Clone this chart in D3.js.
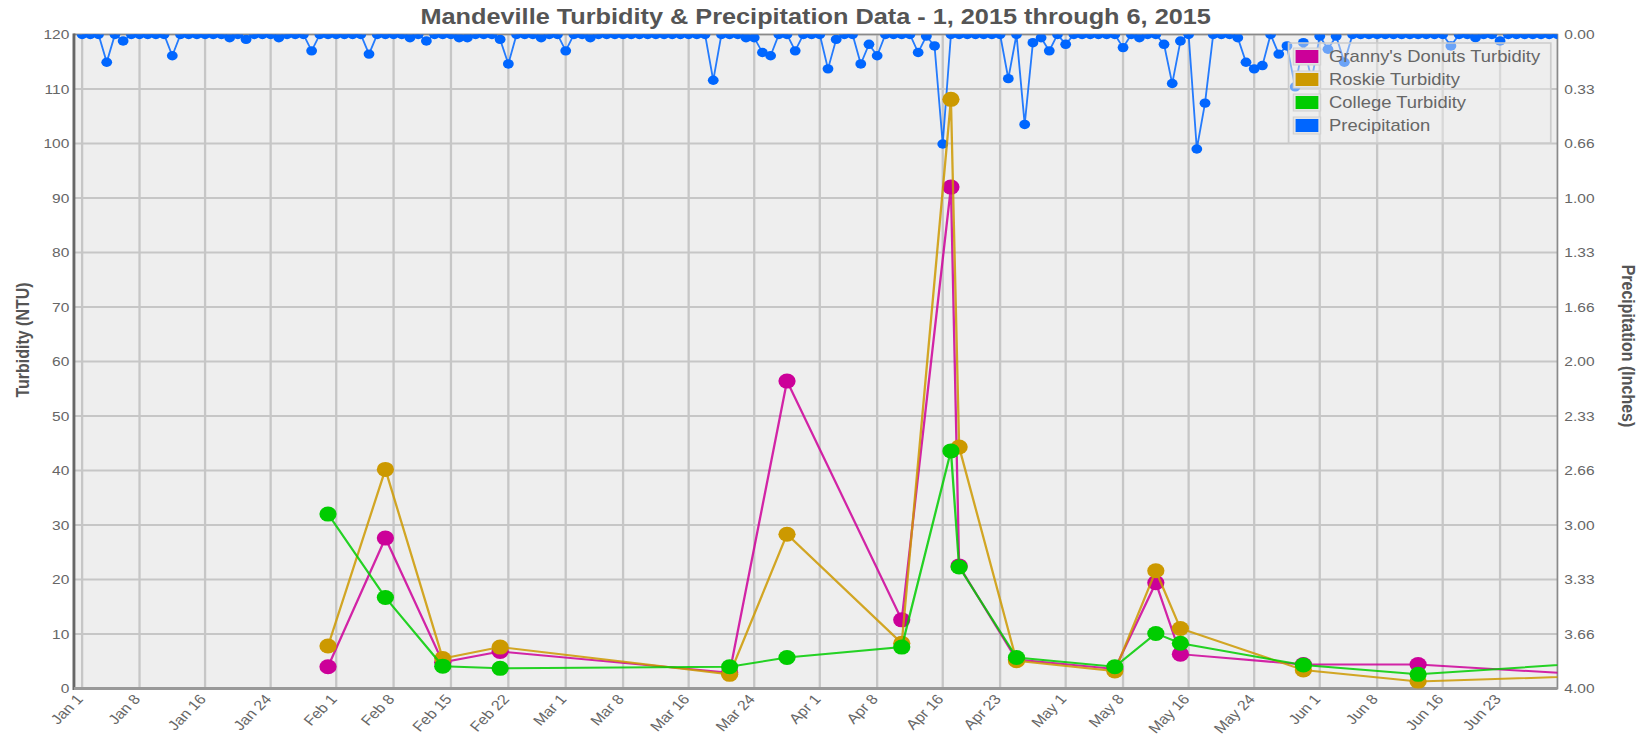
<!DOCTYPE html>
<html>
<head>
<meta charset="utf-8">
<script src="https://cdn.jsdelivr.net/npm/d3@7"></script>
<style>
  html, body { margin: 0; padding: 0; background: #fff; }
  svg { display: block; }
  text { font-family: Arial, "Liberation Sans", sans-serif; }
</style>
</head>
<body>
<svg id="chart"></svg>
<script>
// ---- data ----
var sampleDates = ["2015-01-31","2015-02-07","2015-02-14","2015-02-21","2015-03-21","2015-03-28",
  "2015-04-11","2015-04-17","2015-04-18","2015-04-25","2015-05-07","2015-05-12","2015-05-15",
  "2015-05-30","2015-06-13","2015-07-11"];
var grannyTurbidity  = [4.0, 27.6, 4.8, 6.8, 2.9, 56.4, 12.6, 92.0, 22.5, 5.3, 3.6, 19.4, 6.3, 4.4, 4.4, 1.9];
var roskieTurbidity  = [7.8, 40.2, 5.5, 7.6, 2.6, 28.3, 8.3, 108.1, 44.3, 5.1, 3.2, 21.6, 11.0, 3.4, 1.3, 2.6];
var collegeTurbidity = [32.0, 16.7, 4.1, 3.7, 4.0, 5.7, 7.6, 43.6, 22.3, 5.7, 4.0, 10.1, 8.3, 4.3, 2.6, 5.4];

// daily precipitation, inches, one value per day of the month
var precipJan = [0,0,0,0.17,0,0.04,0,0,0,0,0,0.13,0,0,0,0,0,0,0.02,0,0.03,0,0,0,0.02,0,0,0,0.10,0,0];
var precipFeb = [0,0,0,0,0.12,0,0,0,0,0.02,0,0.04,0,0,0,0.02,0.02,0,0,0,0.03,0.18,0,0,0,0.02,0,0];
var precipMar = [0.10,0,0,0.02,0,0,0,0,0,0,0,0,0,0,0,0,0,0,0.28,0,0,0,0.02,0.02,0.11,0.13,0,0,0.10,0,0];
var precipApr = [0,0.21,0.03,0,0,0.18,0.06,0.13,0,0,0,0,0.11,0.01,0.07,0.67,0,0,0,0,0,0,0,0.27,0,0.55,0.05,0.02,0.10,0];
var precipMay = [0.06,0,0,0,0,0,0,0.08,0,0.02,0,0,0.06,0.30,0.04,0,0.70,0.42,0,0,0,0.02,0.17,0.21,0.19,0,0.12,0.07,0.32,0.05,0.28];
var precipJun = [0.01,0.09,0.01,0.17,0,0,0,0,0,0,0,0,0,0,0,0,0.07,0,0,0.02,0,0,0.04,0,0,0,0,0,0,0];

var xTickDates = ["2015-01-01","2015-01-08","2015-01-16","2015-01-24","2015-02-01","2015-02-08","2015-02-15","2015-02-22",
  "2015-03-01","2015-03-08","2015-03-16","2015-03-24","2015-04-01","2015-04-08","2015-04-16","2015-04-23",
  "2015-05-01","2015-05-08","2015-05-16","2015-05-24","2015-06-01","2015-06-08","2015-06-16","2015-06-23"];
var precipTickLabels = ["0.00","0.33","0.66","1.00","1.33","1.66","2.00","2.33","2.66","3.00","3.33","3.66","4.00"];

var seriesNames  = ["Granny's Donuts Turbidity", "Roskie Turbidity", "College Turbidity", "Precipitation"];
var seriesColors = ["#cc0099", "#cc9900", "#00cc00", "#0066ff"];

// ---- layout ----
// the reference is a horizontally stretched picture, so draw in a narrower box and stretch it
var stretch = 1.15;
var W = 1642 / stretch, H = 737;
var pLeft = 64.3, pRight = 1354.3, pTop = 34.5, pBottom = 688.5;

var svg = d3.select("#chart")
  .attr("width", 1642).attr("height", 737)
  .attr("viewBox", "0 0 " + W + " " + H)
  .attr("preserveAspectRatio", "none");

var parse = d3.timeParse("%Y-%m-%d");
var x = d3.scaleTime().domain([new Date(2014, 11, 31), new Date(2015, 5, 30)]).range([pLeft, pRight]);
var yL = d3.scaleLinear().domain([0, 120]).range([pBottom, pTop]);
var yR = d3.scaleLinear().domain([0, 4]).range([pTop, pBottom]);

svg.append("defs").append("clipPath").attr("id", "plotclip")
  .append("rect").attr("x", pLeft).attr("y", pTop).attr("width", pRight - pLeft).attr("height", pBottom - pTop);

svg.append("rect").attr("x", pLeft).attr("y", pTop).attr("width", pRight - pLeft).attr("height", pBottom - pTop)
  .attr("fill", "#eeeeee");

// grid
var grid = svg.append("g");
grid.selectAll(".hg").data(yL.ticks(12)).enter().append("line")
  .attr("x1", pLeft).attr("x2", pRight)
  .attr("y1", function(d){return yL(d);}).attr("y2", function(d){return yL(d);})
  .attr("stroke", "#c6c6c6").attr("stroke-width", 2);
grid.selectAll(".vg").data(xTickDates.map(parse)).enter().append("line")
  .attr("x1", function(d){return x(d);}).attr("x2", function(d){return x(d);})
  .attr("y1", pTop).attr("y2", pBottom)
  .attr("stroke", "#c6c6c6").attr("stroke-width", 2);

// frame
svg.append("rect").attr("x", pLeft).attr("y", pTop).attr("width", pRight - pLeft).attr("height", pBottom - pTop)
  .attr("fill", "none").attr("stroke", "#8a8a8a").attr("stroke-width", 1.5);
svg.append("line").attr("x1", pLeft).attr("x2", pLeft).attr("y1", pTop - 1).attr("y2", pBottom + 1.5)
  .attr("stroke", "#666").attr("stroke-width", 2.5);
svg.append("line").attr("x1", pLeft).attr("x2", pRight).attr("y1", pBottom).attr("y2", pBottom)
  .attr("stroke", "#999").attr("stroke-width", 3);

// left axis labels
svg.append("g").selectAll("text").data(yL.ticks(12)).enter().append("text")
  .attr("x", pLeft - 4).attr("y", function(d){return yL(d);}).attr("dy", "0.36em")
  .attr("text-anchor", "end").attr("font-size", 13.5).attr("fill", "#666")
  .text(function(d){return d;});

// right axis labels
svg.append("g").selectAll("text").data(precipTickLabels).enter().append("text")
  .attr("x", pRight + 6).attr("y", function(d, i){return yR(i * 4 / 12);}).attr("dy", "0.36em")
  .attr("text-anchor", "start").attr("font-size", 13.5).attr("fill", "#666")
  .text(function(d){return d;});

// bottom axis labels
var fmt = d3.timeFormat("%b %-d");
svg.append("g").selectAll("text").data(xTickDates.map(parse)).enter().append("text")
  .attr("transform", function(d){return "translate(" + (x(d) + 1.5) + "," + (pBottom + 11) + ") rotate(-49)";})
  .attr("text-anchor", "end").attr("font-size", 14).attr("fill", "#666")
  .text(function(d){return fmt(d);});

// titles
svg.append("text").attr("x", (pLeft + pRight) / 2).attr("y", 24).attr("text-anchor", "middle")
  .attr("font-size", 22).attr("font-weight", "bold").attr("fill", "#555")
  .text("Mandeville Turbidity & Precipitation Data - 1, 2015 through 6, 2015");
svg.append("text").attr("transform", "translate(20,340) rotate(-90)").attr("text-anchor", "middle")
  .attr("dy", "0.35em").attr("font-size", 16).attr("font-weight", "bold").attr("fill", "#555")
  .text("Turbidity (NTU)");
svg.append("text").attr("transform", "translate(" + (1628 / stretch) + ",346) rotate(90)").attr("text-anchor", "middle")
  .attr("dy", "0.35em").attr("font-size", 16).attr("font-weight", "bold").attr("fill", "#555")
  .text("Precipitation (Inches)");

// ---- series ----
var plot = svg.append("g").attr("clip-path", "url(#plotclip)");

var precip = [];
[precipJan, precipFeb, precipMar, precipApr, precipMay, precipJun].forEach(function(arr, m) {
  arr.forEach(function(v, i) { precip.push({date: new Date(2015, m, i + 1), value: v}); });
});

plot.append("path").datum(precip)
  .attr("fill", "none").attr("stroke", seriesColors[3]).attr("stroke-width", 1.6).attr("stroke-opacity", 0.85)
  .attr("d", d3.line().x(function(d){return x(d.date);}).y(function(d){return yR(d.value);}));
plot.selectAll(".pdot").data(precip).enter().append("circle")
  .attr("cx", function(d){return x(d.date);}).attr("cy", function(d){return yR(d.value);})
  .attr("r", 4.7).attr("fill", seriesColors[3]);

var turbidity = [grannyTurbidity, roskieTurbidity, collegeTurbidity];
turbidity.forEach(function(vals, s) {
  var pts = vals.map(function(v, i){return {date: parse(sampleDates[i]), value: v};});
  plot.append("path").datum(pts)
    .attr("fill", "none").attr("stroke", seriesColors[s]).attr("stroke-width", 2).attr("stroke-opacity", 0.85)
    .attr("d", d3.line().x(function(d){return x(d.date);}).y(function(d){return yL(d.value);}));
  plot.selectAll(".t" + s).data(pts).enter().append("circle")
    .attr("cx", function(d){return x(d.date);}).attr("cy", function(d){return yL(d.value);})
    .attr("r", 7.5).attr("fill", seriesColors[s]);
});

// ---- legend ----
var lg = svg.append("g");
lg.append("rect").attr("x", 1120.5).attr("y", 43).attr("width", 228).attr("height", 100)
  .attr("fill", "#eeeeee").attr("fill-opacity", 0.45).attr("stroke", "#cccccc").attr("stroke-width", 1.5);
seriesNames.forEach(function(name, i) {
  var cy = 56.5 + i * 23;
  lg.append("rect").attr("x", 1124.6).attr("y", cy - 8.5).attr("width", 23.8).attr("height", 17)
    .attr("fill", "#e4e4e4").attr("stroke", "#d0d0d0").attr("stroke-width", 1);
  lg.append("rect").attr("x", 1126.6).attr("y", cy - 6.5).attr("width", 19.8).attr("height", 13)
    .attr("fill", seriesColors[i]);
  lg.append("text").attr("x", 1155.7).attr("y", cy).attr("dy", "0.36em")
    .attr("font-size", 16).attr("fill", "#666").text(name);
});
</script>
</body>
</html>
